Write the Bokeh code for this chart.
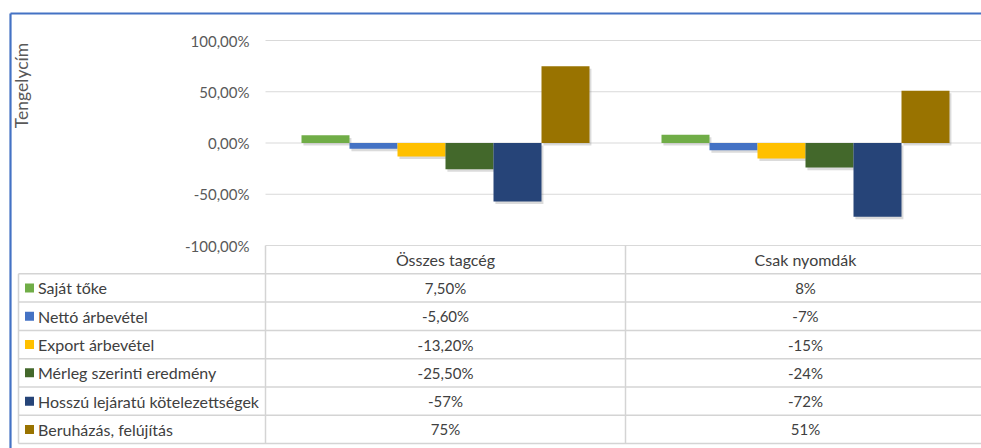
from bokeh.plotting import figure
from bokeh.models import Range1d, ColumnDataSource
from bokeh.core.properties import value
from bokeh.embed import file_html
from bokeh.resources import INLINE
import math

# ---------------- data ----------------
categories = ["Összes tagcég", "Csak nyomdák"]
series = ["Saját tőke", "Nettó árbevétel", "Export árbevétel",
          "Mérleg szerinti eredmény", "Hosszú lejáratú kötelezettségek",
          "Beruházás, felújítás"]
vals_osszes = [7.5, -5.6, -13.2, -25.5, -57, 75]
vals_csak = [8, -7, -15, -24, -72, 51]
labels_osszes = ["7,50%", "-5,60%", "-13,20%", "-25,50%", "-57%", "75%"]
labels_csak = ["8%", "-7%", "-15%", "-24%", "-72%", "51%"]
y_ticks = [100, 50, 0, -50, -100]
y_tick_labels = ["100,00%", "50,00%", "0,00%", "-50,00%", "-100,00%"]
axis_title = "Tengelycím"
colors = ["#70AD47", "#4472C4", "#FFC000", "#43682B", "#264478", "#997300"]

# ---------------- layout constants ----------------
W, H = 981, 448
OFF = 0           # page offset of the canvas
X0 = 265          # px of plot-area left edge
BW = 48.0         # px per bar slot
Y100 = 40         # px of the 100% line
PPU = 1.025       # px per percent
ROW0 = 245        # px of table top
RH = 28.3         # px per table row
GROUP = 7.5       # slots per category (6 bars + 1.5 gap)

x_range = Range1d(-X0 / BW, (W - X0) / BW)
y_range = Range1d(100 - (H - Y100) / PPU, 100 + Y100 / PPU)

def px_x(px_page):
    return (px_page - OFF - X0) / BW

def px_y(py_page):
    return 100 - (py_page - OFF - Y100) / PPU

p = figure(width=W, height=H, x_range=x_range, y_range=y_range,
           output_backend="svg", toolbar_location=None, min_border=0,
           x_axis_location=None, y_axis_location=None,
           outline_line_color=None, background_fill_color="white",
           border_fill_color="white")
p.grid.visible = False
p.extra_y_ranges = {"rows": Range1d(start=(H - ROW0) / RH, end=-ROW0 / RH)}

FONT = value("Lato")
x_end = x_range.end

# ---------------- gridlines + tick labels ----------------
p.segment(x0=[0] * len(y_ticks), x1=[x_end] * len(y_ticks), y0=y_ticks, y1=y_ticks,
          line_color="#D9D9D9", line_width=1.2)
p.text(x=[px_x(249)] * len(y_ticks), y=y_ticks, text=y_tick_labels,
       text_font=FONT, text_font_size="15px", text_color="#595959",
       text_align="right", text_baseline="middle")
p.text(x=[px_x(21)], y=[px_y(85)], text=[axis_title], angle=math.pi / 2,
       text_font=FONT, text_font_size="17.5px", text_color="#595959",
       text_align="center", text_baseline="middle")

# ---------------- bars ----------------
bx, btop, bcol = [], [], []
for ci, vals in enumerate([vals_osszes, vals_csak]):
    for si, v in enumerate(vals):
        bx.append(ci * GROUP + 0.75 + si + 0.5)
        btop.append(v)
        bcol.append(colors[si])
src = ColumnDataSource(dict(x=bx, top=btop, bottom=[0] * len(bx), color=bcol,
                            sx=[x + 0.04 for x in bx],
                            stop=[t - 2.5 for t in btop],
                            sbot=[-2.5] * len(bx)))
p.vbar(x="sx", top="stop", bottom="sbot", width=1.0, source=src,
       fill_color="#7F7F7F", fill_alpha=0.28, line_color=None)
p.vbar(x="x", top="top", bottom="bottom", width=1.0, source=src,
       fill_color="color", line_color=None)

# ---------------- data table ----------------
line_c = "#D4D4D4"
leg_left = px_x(18)
rows_idx = list(range(1, len(series) + 1))
# horizontal lines
p.segment(x0=[leg_left] * len(series) + [leg_left],
          x1=[x_end] * (len(series) + 1),
          y0=rows_idx + [len(series) + 1], y1=rows_idx + [len(series) + 1],
          y_range_name="rows", line_color=line_c, line_width=1.5)
# vertical lines
p.segment(x0=[0, GROUP, leg_left], x1=[0, GROUP, leg_left],
          y0=[0, 0, 1], y1=[len(series) + 1] * 3,
          y_range_name="rows", line_color=line_c, line_width=1.5)
# header
p.text(x=[ci * GROUP + GROUP / 2 for ci in range(len(categories))],
       y=[0.5] * len(categories), text=categories, y_range_name="rows",
       text_font=FONT, text_font_size="16px", text_color="#404040",
       text_align="center", text_baseline="middle")
# legend keys + series names
rc = [r + 0.5 for r in rows_idx]
p.scatter(x=[px_x(29)] * len(series), y=rc, marker="square", size=9,
          fill_color=colors, line_color=None, y_range_name="rows")
p.text(x=[px_x(37.5)] * len(series), y=rc, text=series, y_range_name="rows",
       text_font=FONT, text_font_size="16px", text_color="#404040",
       text_align="left", text_baseline="middle")
# values
for ci, labs in enumerate([labels_osszes, labels_csak]):
    p.text(x=[ci * GROUP + GROUP / 2] * len(labs), y=rc, text=labs,
           y_range_name="rows", text_font=FONT, text_font_size="15px",
           text_color="#404040", text_align="center", text_baseline="middle")

# ---------------- blue selection border ----------------
bl, bt = px_x(10), px_y(13)
p.segment(x0=[bl, bl], x1=[bl, x_end + 1], y0=[bt, bt], y1=[y_range.start - 5, bt],
          line_color="#4472C4", line_width=2.2)

open("out.html", "w").write(file_html(p, INLINE))
